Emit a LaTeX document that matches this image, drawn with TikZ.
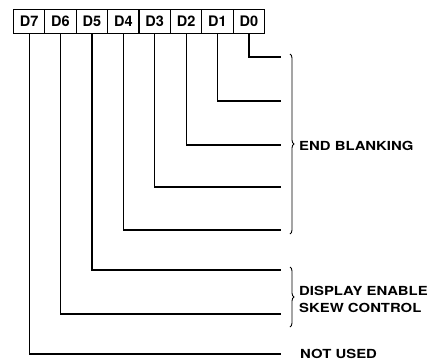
\documentclass[tikz,border=0pt]{standalone}
\usepackage{fontspec}
\setmainfont{TeX Gyre Heros}
\usetikzlibrary{decorations.pathreplacing}
\begin{document}
\begin{tikzpicture}[x=1pt,y=-1pt,
  bitbox/.style={draw, line width=1.2pt, minimum width=31.4pt, minimum height=24pt, inner sep=0pt, anchor=north west, font=\fontsize{14.5}{15}\selectfont\bfseries},
  wire/.style={line width=1.2pt},
  lbl/.style={anchor=west, inner sep=0pt, xscale=1.19, align=left, font=\fontsize{12.5}{17}\selectfont\bfseries},
  brc/.style={decorate, decoration={brace, amplitude=4pt}, line width=0.9pt}]
\useasboundingbox (0,0) rectangle (440,362);
% register boxes
\node[bitbox] (b7) at (12.8,9) {D7};
\node[bitbox] (b6) at (44.2,9) {D6};
\node[bitbox] (b5) at (75.6,9) {D5};
\node[bitbox] (b4) at (107.0,9) {D4};
\node[bitbox] (b3) at (138.4,9) {D3};
\node[bitbox] (b2) at (169.8,9) {D2};
\node[bitbox] (b1) at (201.2,9) {D1};
\node[bitbox] (b0) at (232.6,9) {D0};
% line ends
\coordinate (e0) at (281,57);
\coordinate (e1) at (281,101);
\coordinate (e2) at (281,145);
\coordinate (e3) at (281,187);
\coordinate (e4) at (281,230);
\coordinate (e5) at (281,270);
\coordinate (e6) at (281,314);
\coordinate (e7) at (281,354);
\foreach \i in {0,...,7}{\draw[wire] (b\i.south) |- (e\i);}
% braces
\coordinate (ba) at (290,54);
\coordinate (bb) at (290,234);
\coordinate (bc) at (290,267);
\coordinate (bd) at (290,327);
\draw[brc] (ba) -- (bb);
\draw[brc] (bc) -- (bd);
% labels
\node[lbl] (t1) at (299,146) {END BLANKING};
\node[lbl] (t2) at (299,299) {DISPLAY ENABLE\\SKEW CONTROL};
\node[lbl] (t3) at (300,354) {NOT USED};
\end{tikzpicture}
\end{document}
